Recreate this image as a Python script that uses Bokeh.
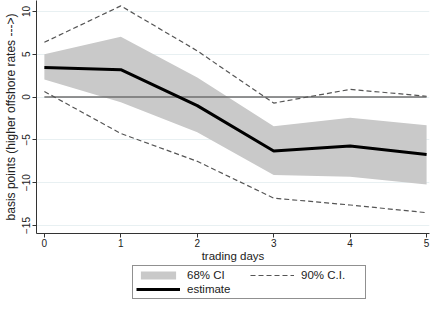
from bokeh.plotting import figure
from bokeh.models import Range1d, Legend, LegendItem, FixedTicker
from bokeh.layouts import column
from bokeh.embed import file_html
from bokeh.resources import INLINE

# data
days = [0, 1, 2, 3, 4, 5]
estimate = [3.45, 3.2, -1.0, -6.3, -5.7, -6.7]
ci68_lo = [2.05, -0.6, -4.1, -9.1, -9.3, -10.2]
ci68_hi = [5.0, 7.05, 2.3, -3.4, -2.4, -3.3]
ci90_lo = [0.65, -4.25, -7.5, -11.8, -12.6, -13.5]
ci90_hi = [6.4, 10.65, 5.4, -0.7, 0.9, 0.1]
y_ticks = [-15, -10, -5, 0, 5, 10]
x_ticks = [0, 1, 2, 3, 4, 5]
zero_ref = [0, 0]

FONT = "Liberation Sans"
FILL = "#c9c9c9"
DASH_COLOR = "#555555"

p = figure(width=430, height=264, output_backend="svg", toolbar_location=None,
           x_range=Range1d(-0.103, 5.038), y_range=Range1d(-15.93, 11.28),
           min_border_top=0, min_border_left=29, min_border_right=1, min_border_bottom=0)

p.outline_line_color = None
p.background_fill_color = "white"
p.border_fill_color = "white"

p.xgrid.grid_line_color = None
p.ygrid.grid_line_color = "#e8f0f2"
p.ygrid.grid_line_width = 1

for ax in (p.xaxis[0], p.yaxis[0]):
    ax.axis_line_color = "#333333"
    ax.axis_line_width = 1
    ax.major_tick_line_color = "#333333"
    ax.major_tick_out = 4
    ax.major_tick_in = 0
    ax.minor_tick_line_color = None
    ax.major_label_text_font = FONT
    ax.major_label_text_font_size = "10px"
    ax.major_label_text_color = "#222222"
    ax.axis_label_text_font = FONT
    ax.axis_label_text_font_size = "11.5px"
    ax.axis_label_text_font_style = "normal"
    ax.axis_label_text_color = "#222222"
    ax.major_label_standoff = 1
    ax.axis_label_standoff = 0

p.yaxis.axis_label_text_font_size = "12px"
p.yaxis.axis_label_standoff = 2
p.yaxis.major_label_standoff = 2
p.xaxis.ticker = FixedTicker(ticks=x_ticks)
p.yaxis.ticker = FixedTicker(ticks=y_ticks)
p.yaxis.major_label_orientation = "vertical"
p.xaxis.axis_label = "trading days"
p.yaxis.axis_label = "basis points (higher offshore rates --->)"

p.varea(x=days, y1=ci68_lo, y2=ci68_hi, fill_color=FILL, fill_alpha=1)
p.line(x=[days[0], days[-1]], y=zero_ref, line_color="#6e6e6e", line_width=1.5)
p.line(x=days, y=ci90_hi, line_color=DASH_COLOR, line_width=1.2, line_dash="5 3")
p.line(x=days, y=ci90_lo, line_color=DASH_COLOR, line_width=1.2, line_dash="5 3")
p.line(x=days, y=estimate, line_color="black", line_width=3)

# legend panel below the chart; swatch renderers hold a single point
# (a single point draws nothing, it only gives the legend its swatch)
lg = figure(width=430, height=35, output_backend="svg", toolbar_location=None,
            x_range=Range1d(0, 1), y_range=Range1d(0, 1),
            x_axis_location=None, y_axis_location=None,
            min_border_top=0, min_border_left=0, min_border_right=0, min_border_bottom=0)
lg.outline_line_color = None
lg.xgrid.grid_line_color = None
lg.ygrid.grid_line_color = None
sw_band = lg.varea(x=days[:1], y1=ci68_lo[:1], y2=ci68_hi[:1], fill_color=FILL, fill_alpha=1)
sw_dash = lg.line(x=days[:1], y=ci90_hi[:1], line_color=DASH_COLOR, line_width=1.2, line_dash="5 3")
sw_est = lg.line(x=days[:1], y=estimate[:1], line_color="black", line_width=3)

legend = Legend(items=[
    LegendItem(label="68% CI", renderers=[sw_band]),
    LegendItem(label="90% C.I.", renderers=[sw_dash]),
    LegendItem(label="estimate", renderers=[sw_est]),
], orientation="horizontal", ncols=2, location=(96, 0))
legend.label_text_font = FONT
legend.label_text_font_size = "11.5px"
legend.label_text_color = "#222222"
legend.border_line_color = "#222222"
legend.border_line_width = 1
legend.glyph_width = 44
legend.glyph_height = 10
legend.label_standoff = 7
legend.label_width = 61
legend.label_height = 10
legend.spacing = 2
legend.padding = 3
legend.margin = 0
legend.background_fill_alpha = 1
lg.add_layout(legend, "center")

layout = column(p, lg, spacing=0)
open("out.html", "w").write(file_html(layout, INLINE))
